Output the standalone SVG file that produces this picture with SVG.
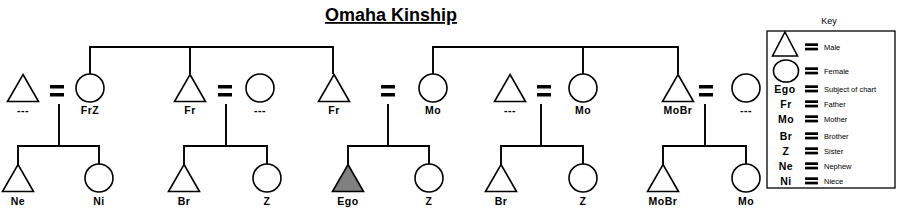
<svg xmlns="http://www.w3.org/2000/svg" width="900" height="212" viewBox="0 0 900 212">
<defs>
<style>
.sh{fill:#fff;stroke:#000;stroke-width:1.6}
.ego{fill:#808080;stroke:#000;stroke-width:1.6}
.ln{fill:none;stroke:#000;stroke-width:1.9}
.lb{font-family:"Liberation Sans",Arial,sans-serif;font-weight:bold;font-size:10.5px;letter-spacing:0.5px;text-anchor:middle;fill:#000}
.kt{font-family:"Liberation Sans",Arial,sans-serif;font-size:7.5px;fill:#000}
.eq{fill:#000}
</style>
<g id="tri"><path d="M0,-13.5 L15.5,13.5 L-15.5,13.5 Z"/></g>
<g id="eqm"><rect x="0" y="-3" width="14" height="3.5"/><rect x="0" y="5" width="14" height="3.5"/></g>
<g id="eqk"><rect x="-6" y="-3.7" width="13" height="2.7"/><rect x="-6" y="0.7" width="13" height="2.7"/></g>
</defs>
<rect width="900" height="212" fill="#fff"/>
<text x="391" y="21" font-family="'Liberation Sans',Arial,sans-serif" font-weight="bold" font-size="18" text-anchor="middle" text-decoration="underline">Omaha Kinship</text>

<g id="connectors">
<path class="ln" d="M90,74 V47 H333 V74 M190,47 V74"/>
<path class="ln" d="M433,74 V47 H678 V74 M583,47 V74"/>
<path class="ln" d="M59,104 V146 M18,165 V146 H99 V164"/>
<path class="ln" d="M226,104 V146 M184,165 V146 H267 V164"/>
<path class="ln" d="M388,104 V146 M348,165 V146 H429 V164"/>
<path class="ln" d="M541,104 V146 M501,165 V146 H583 V164"/>
<path class="ln" d="M705,104 V146 M663,165 V146 H746 V164"/>
</g>

<g id="equals" class="eq">
<use href="#eqm" x="50" y="88"/>
<use href="#eqm" x="218" y="88"/>
<use href="#eqm" x="381" y="88"/>
<use href="#eqm" x="537" y="88"/>
<use href="#eqm" x="699" y="88"/>
</g>

<g id="n-g1-husband1"><use href="#tri" class="sh" x="23" y="88"/><text class="lb" x="23" y="114">---</text></g>
<g id="n-FrZ"><circle class="sh" cx="90" cy="88" r="14"/><text class="lb" x="90" y="114">FrZ</text></g>
<g id="n-Fr1"><use href="#tri" class="sh" x="190" y="88"/><text class="lb" x="190" y="114">Fr</text></g>
<g id="n-g1-wife1"><circle class="sh" cx="260" cy="88" r="14"/><text class="lb" x="260" y="114">---</text></g>
<g id="n-Fr2"><use href="#tri" class="sh" x="334" y="88"/><text class="lb" x="334" y="114">Fr</text></g>
<g id="n-Mo1"><circle class="sh" cx="433" cy="88" r="14"/><text class="lb" x="433" y="114">Mo</text></g>
<g id="n-g1-husband2"><use href="#tri" class="sh" x="510" y="88"/><text class="lb" x="510" y="114">---</text></g>
<g id="n-Mo2"><circle class="sh" cx="583" cy="88" r="14"/><text class="lb" x="583" y="114">Mo</text></g>
<g id="n-MoBr1"><use href="#tri" class="sh" x="678" y="88"/><text class="lb" x="678" y="114">MoBr</text></g>
<g id="n-g1-wife2"><circle class="sh" cx="746" cy="88" r="14"/><text class="lb" x="746" y="114">---</text></g>

<g id="n-Ne"><use href="#tri" class="sh" x="18" y="178"/><text class="lb" x="18" y="205">Ne</text></g>
<g id="n-Ni"><circle class="sh" cx="99" cy="178" r="14"/><text class="lb" x="99" y="205">Ni</text></g>
<g id="n-Br1"><use href="#tri" class="sh" x="184" y="178"/><text class="lb" x="184" y="205">Br</text></g>
<g id="n-Z1"><circle class="sh" cx="267" cy="178" r="14"/><text class="lb" x="267" y="205">Z</text></g>
<g id="n-Ego"><use href="#tri" class="ego" x="348" y="178"/><text class="lb" x="348" y="205">Ego</text></g>
<g id="n-Z2"><circle class="sh" cx="429" cy="178" r="14"/><text class="lb" x="429" y="205">Z</text></g>
<g id="n-Br2"><use href="#tri" class="sh" x="501" y="178"/><text class="lb" x="501" y="205">Br</text></g>
<g id="n-Z3"><circle class="sh" cx="583" cy="178" r="14"/><text class="lb" x="583" y="205">Z</text></g>
<g id="n-MoBr2"><use href="#tri" class="sh" x="663" y="178"/><text class="lb" x="663" y="205">MoBr</text></g>
<g id="n-Mo3"><circle class="sh" cx="746" cy="178" r="14"/><text class="lb" x="746" y="205">Mo</text></g>

<g id="key">
<text x="829" y="24" font-family="'Liberation Sans',Arial,sans-serif" font-size="9" text-anchor="middle">Key</text>
<rect x="767" y="31" width="128" height="157" fill="#fff" stroke="#000" stroke-width="1.3"/>
<path class="sh" d="M785,32 L797.5,56 L772.5,56 Z"/>
<ellipse class="sh" cx="786" cy="71" rx="12.5" ry="11"/>
<g class="eq">
<use href="#eqk" x="811" y="47"/>
<use href="#eqk" x="811" y="71"/>
<use href="#eqk" x="811" y="89"/>
<use href="#eqk" x="811" y="104"/>
<use href="#eqk" x="811" y="119"/>
<use href="#eqk" x="811" y="136"/>
<use href="#eqk" x="811" y="151"/>
<use href="#eqk" x="811" y="166"/>
<use href="#eqk" x="811" y="181"/>
</g>
<text class="lb" x="785" y="92.5">Ego</text>
<text class="lb" x="786" y="107.5">Fr</text>
<text class="lb" x="786" y="122.5">Mo</text>
<text class="lb" x="786" y="139.5">Br</text>
<text class="lb" x="786" y="154.5">Z</text>
<text class="lb" x="786" y="169.5">Ne</text>
<text class="lb" x="786" y="184.5">Ni</text>
<text class="kt" x="824" y="49.5">Male</text>
<text class="kt" x="824" y="73.5">Female</text>
<text class="kt" x="824" y="91.5">Subject of chart</text>
<text class="kt" x="824" y="106.5">Father</text>
<text class="kt" x="824" y="121.5">Mother</text>
<text class="kt" x="824" y="138.5">Brother</text>
<text class="kt" x="824" y="153.5">Sister</text>
<text class="kt" x="824" y="168.5">Nephew</text>
<text class="kt" x="824" y="183.5">Niece</text>
</g>
</svg>
